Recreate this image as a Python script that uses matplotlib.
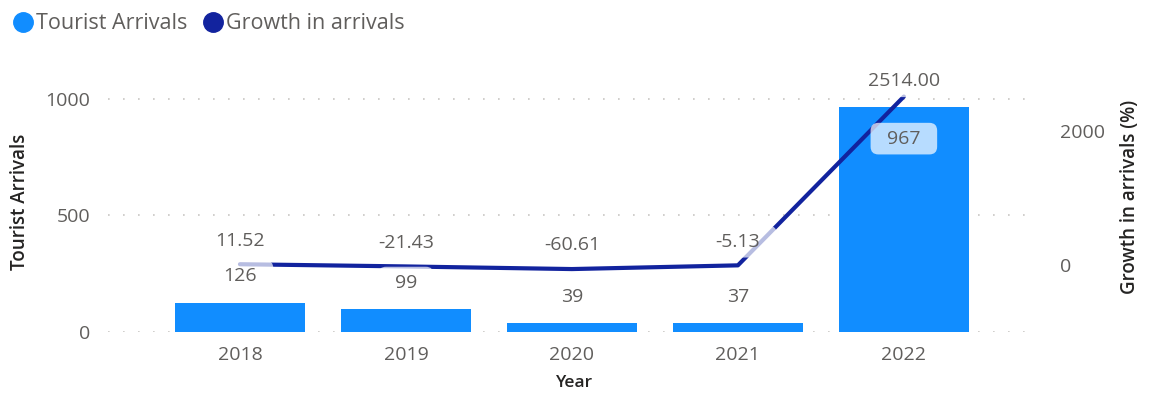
import matplotlib
matplotlib.use("Agg")
import matplotlib.pyplot as plt
from matplotlib.lines import Line2D
from matplotlib.patches import BoxStyle

plt.rcParams["font.family"] = ["Open Sans", "DejaVu Sans"]

# Dados
years = ["2018", "2019", "2020", "2021", "2022"]
arrivals = [126, 99, 39, 37, 967]
growth = [11.52, -21.43, -60.61, -5.13, 2514.00]

bar_color = "#118DFF"
line_color = "#12239E"
text_gray = "#605E5C"
title_dark = "#252423"
grid_color = "#C8C6C4"


# Caixa de fundo dos rótulos: mais larga na horizontal do que na vertical
def label_box(x0, y0, width, height, mutation_size):
    px = 0.85 * mutation_size
    py = 0.35 * mutation_size
    return BoxStyle.Round(pad=0, rounding_size=0.4)(
        x0 - px, y0 - py, width + 2 * px, height + 2 * py, mutation_size)


fig = plt.figure(figsize=(11.54, 3.96), dpi=100)
ax = fig.add_axes([108 / 1154, 1 - 332 / 396, (1035 - 108) / 1154, (332 - 90) / 396])
ax2 = ax.twinx()

x = list(range(len(years)))

# Barras (eixo esquerdo)
ax.bar(x, arrivals, width=0.78, color=bar_color, zorder=2)
ax.set_xlim(-0.795, 4.79)
ax.set_ylim(0, 1038.6)
ax.set_yticks([0, 500, 1000])
ax.set_xticks(x)
ax.set_xticklabels(years)
ax.grid(axis="y", color=grid_color, linestyle=(0, (1, 8)), linewidth=1.2)
ax.set_axisbelow(True)

# Linha de crescimento (eixo direito)
ax2.plot(x, growth, color=line_color, linewidth=3, solid_capstyle="round", zorder=3)
ax2.set_ylim(-1000, 2612)
ax2.set_yticks([0, 2000])

for a in (ax, ax2):
    for s in a.spines.values():
        s.set_visible(False)
    a.tick_params(length=0, labelsize=14, labelcolor=text_gray)
ax.tick_params(axis="x", pad=10)
ax.tick_params(axis="y", pad=13)
ax2.tick_params(axis="y", pad=18)

box = dict(boxstyle=label_box, fc="white", ec="none", alpha=0.7)

# Rótulos das barras, desenhados acima da linha
for xi, v in zip(x, arrivals):
    off = -23 if v > 500 else 19
    ax2.annotate(str(v), xy=(xi, v), xycoords=ax.transData, xytext=(0, off),
                 textcoords="offset points", ha="center", va="center", fontsize=14,
                 color=text_gray, bbox=box, zorder=5)

# Rótulos da linha (o maior fica mais perto do ponto para caber na área)
for xi, g in zip(x, growth):
    off = 11 if g == max(growth) else 17
    ax2.annotate(f"{g:.2f}", xy=(xi, g), xytext=(0, off), textcoords="offset points",
                 ha="center", va="center", fontsize=14, color=text_gray,
                 bbox=box, zorder=4)

# Títulos dos eixos
fig.text(575 / 1154, 1 - 383 / 396, "Year", ha="center", va="center",
         fontsize=12.5, fontweight="semibold", color=title_dark)
fig.text(20 / 1154, 1 - 202 / 396, "Tourist Arrivals", ha="center", va="center",
         rotation=90, fontsize=13.5, fontweight="semibold", color=title_dark)
fig.text(1130 / 1154, 1 - 197 / 396, "Growth in arrivals (%)", ha="center", va="center",
         rotation=90, fontsize=13.5, fontweight="semibold", color=title_dark)

# Legenda
handles = [
    Line2D([], [], marker="o", linestyle="none", markersize=14, color=bar_color),
    Line2D([], [], marker="o", linestyle="none", markersize=14, color=line_color),
]
fig.legend(handles, ["Tourist Arrivals", "Growth in arrivals"], loc="upper left",
           bbox_to_anchor=(-0.0045, 1.004), ncol=2, frameon=False, fontsize=15.5,
           labelcolor=text_gray, handletextpad=0.0, columnspacing=0.6,
           handlelength=1.2, borderaxespad=0.3)

fig.savefig("out.png", dpi=100)
